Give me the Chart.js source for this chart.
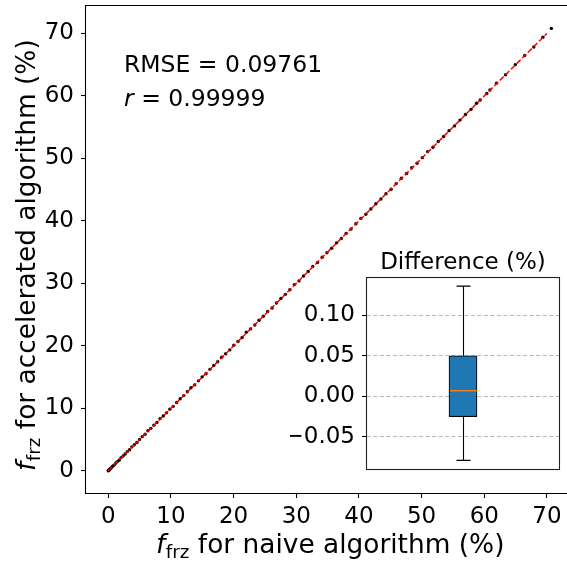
<!DOCTYPE html>
<html><head><meta charset="utf-8">
<script src="https://cdn.jsdelivr.net/npm/chart.js@4/dist/chart.umd.min.js"></script>
<style>
html,body{margin:0;padding:0;background:#fff;}
#wrap{position:relative;width:567px;height:564px;overflow:hidden;background:#fff;}
#main{position:absolute;left:0;top:0;}
#inset{position:absolute;left:290px;top:240px;}
</style></head><body>
<div id="wrap"><canvas id="main" width="567" height="564"></canvas><canvas id="inset" width="277" height="240"></canvas></div>
<script>
const FONT = "'DejaVu Sans', sans-serif";

// f_frz for naive algorithm (%)
const naive = [0.00,0.05,0.12,0.20,0.31,0.45,0.62,0.80,1.02,1.25,1.51,1.78,2.06,2.37,2.70,3.04,3.40,3.77,4.16,4.57,4.99,5.42,5.87,6.33,6.80,7.28,7.77,8.27,8.78,9.30,9.83,10.37,10.92,11.48,12.05,12.62,13.20,13.79,14.39,14.99,15.60,16.22,16.84,17.47,18.10,18.74,19.39,20.04,20.70,21.36,22.03,22.70,23.38,24.06,24.75,25.44,26.14,26.84,27.55,28.26,28.98,29.70,30.43,31.16,31.90,32.64,33.39,34.14,34.89,35.65,36.42,37.19,37.96,38.74,39.52,40.31,41.10,41.90,42.70,43.51,44.32,45.13,45.95,46.77,47.60,48.43,49.27,50.11,50.96,51.81,52.66,53.52,54.38,55.25,56.12,57.00,57.88,58.76,59.35,60.40,60.90,61.95,63.40,64.95,66.45,67.90,69.35,70.70];
// f_frz for accelerated algorithm (%)
const accel = [0.000,0.054,0.110,0.212,0.331,0.435,0.650,0.808,0.998,1.295,1.512,1.749,2.115,2.381,2.692,3.078,3.373,3.834,4.166,4.528,5.009,5.469,5.852,6.402,6.795,7.307,7.734,8.360,8.793,9.276,9.871,10.315,10.923,11.538,12.038,12.644,13.310,13.761,14.399,15.037,15.532,16.236,16.875,17.450,18.181,18.741,19.351,20.092,20.707,21.334,22.166,22.715,23.332,24.093,24.741,25.501,26.061,26.862,27.594,28.243,28.985,29.799,30.397,31.178,31.897,32.690,33.330,34.168,34.900,35.629,36.487,37.178,38.000,38.695,39.534,40.396,41.072,41.902,42.753,43.503,44.351,45.058,45.970,46.816,47.584,48.505,49.235,50.118,51.080,51.786,52.697,53.516,54.438,55.199,56.132,57.025,57.850,58.829,59.356,60.389,60.943,62.045,63.381,65.000,66.467,67.838,69.379,70.805];

const refLineX = [0, 70];
const refLineY = [0, 70];
const mainTicks = [0, 10, 20, 30, 40, 50, 60, 70];
const xLimits = [-3.55, 72.56];
const yLimits = [-3.55, 74.55];

const annotRmse = 'RMSE = 0.09761';
const annotRVar = 'r';
const annotRVal = ' = 0.99999';
const xTitleParts = ['f', 'frz', ' for naive algorithm (%)'];
const yTitleParts = ['f', 'frz', ' for accelerated algorithm (%)'];

// Difference (%) box plot statistics
const boxWhiskers = [-0.079, 0.136];
const boxQuartiles = [-0.025, 0.050];
const boxMedian = [0.007];
const insetTicks = [-0.05, 0.00, 0.05, 0.10];
const insetLimits = [-0.0896, 0.146];
const insetTitle = 'Difference (%)';

function drawMathLabel(ctx, parts, size, subSize, subDrop) {
  ctx.textBaseline = 'alphabetic';
  ctx.textAlign = 'left';
  ctx.fillStyle = '#000';
  let x = 0;
  ctx.font = 'italic ' + size + 'px ' + FONT;
  ctx.fillText(parts[0], x, 0);
  x += ctx.measureText(parts[0]).width + 0.5;
  ctx.font = subSize + 'px ' + FONT;
  ctx.fillText(parts[1], x, subDrop);
  x += ctx.measureText(parts[1]).width;
  ctx.font = size + 'px ' + FONT;
  ctx.fillText(parts[2], x, 0);
}

function noPad(s) {
  s.paddingTop = 0; s.paddingBottom = 0; s.paddingLeft = 0; s.paddingRight = 0;
}

const mainDecor = {
  id: 'mainDecor',
  afterDraw(chart) {
    const ctx = chart.ctx, a = chart.chartArea;
    ctx.save();
    ctx.strokeStyle = '#000';
    ctx.lineWidth = 1.1;
    ctx.beginPath();
    ctx.moveTo(chart.width + 2, a.top + 0.5);
    ctx.lineTo(a.left - 0.5, a.top + 0.5);
    ctx.lineTo(a.left - 0.5, a.bottom + 0.5);
    ctx.lineTo(chart.width + 2, a.bottom + 0.5);
    ctx.stroke();

    // annotations
    ctx.fillStyle = '#000';
    ctx.textBaseline = 'alphabetic';
    ctx.textAlign = 'left';
    ctx.font = '23.5px ' + FONT;
    ctx.fillText(annotRmse, 124, 72);
    ctx.font = 'italic 23.5px ' + FONT;
    ctx.fillText(annotRVar, 124, 106);
    const rw = ctx.measureText(annotRVar).width;
    ctx.font = '23.5px ' + FONT;
    ctx.fillText(annotRVal, 124 + rw, 106);

    // x title
    ctx.save();
    ctx.translate(156, 553);
    drawMathLabel(ctx, xTitleParts, 26.4, 18.4, 4.5);
    ctx.restore();
    // y title
    ctx.save();
    ctx.translate(35, 471);
    ctx.rotate(-Math.PI / 2);
    drawMathLabel(ctx, yTitleParts, 26.4, 18.4, 4.5);
    ctx.restore();
    ctx.restore();
  }
};

const tickFont = { family: FONT, size: 23 };

new Chart(document.getElementById('main'), {
  type: 'scatter',
  data: {
    datasets: [
      {
        data: naive.map((x, i) => ({ x: x, y: accel[i] })),
        pointRadius: 1.7, pointBackgroundColor: '#000', pointBorderWidth: 0,
        order: 2
      },
      {
        type: 'line',
        data: refLineX.map((x, i) => ({ x: x, y: refLineY[i] })),
        borderColor: '#ff0000', borderWidth: 1.5, borderDash: [5.5, 2.4],
        pointRadius: 0, fill: false, order: 1
      }
    ]
  },
  options: {
    responsive: false, animation: false, devicePixelRatio: 1,
    layout: { padding: { top: 5, right: 0, left: 0, bottom: 0 } },
    plugins: { legend: { display: false }, tooltip: { enabled: false } },
    scales: {
      x: {
        type: 'linear', min: xLimits[0], max: xLimits[1],
        afterBuildTicks: s => { s.ticks = mainTicks.map(v => ({ value: v })); },
        afterFit: s => { s.height = 71; noPad(s); },
        grid: { drawOnChartArea: false, drawTicks: true, tickLength: 5, tickColor: '#000', tickWidth: 1.1 },
        border: { display: false },
        ticks: { color: '#000', font: tickFont, padding: 5, maxRotation: 0, autoSkip: false }
      },
      y: {
        type: 'linear', min: yLimits[0], max: yLimits[1],
        afterBuildTicks: s => { s.ticks = mainTicks.map(v => ({ value: v })); },
        afterFit: s => { s.width = 86; noPad(s); },
        grid: { drawOnChartArea: false, drawTicks: true, tickLength: 5, tickColor: '#000', tickWidth: 1.1 },
        border: { display: false },
        ticks: { color: '#000', font: tickFont, padding: 7, autoSkip: false }
      }
    }
  },
  plugins: [mainDecor]
});

const insetDecor = {
  id: 'insetDecor',
  beforeDraw(chart) {
    const ctx = chart.ctx, a = chart.chartArea;
    ctx.save();
    ctx.fillStyle = '#fff';
    ctx.fillRect(a.left, a.top, a.right - a.left, a.bottom - a.top);
    ctx.restore();
  },
  afterDatasetsDraw(chart) {
    const ctx = chart.ctx;
    const xs = chart.scales.x, ys = chart.scales.y;
    const cx = Math.round(xs.getPixelForValue(0)) + 0.5;
    const capHalf = 7, boxHalf = 14;
    const yMin = ys.getPixelForValue(boxWhiskers[0]);
    const yMax = ys.getPixelForValue(boxWhiskers[1]);
    const yQ1 = ys.getPixelForValue(boxQuartiles[0]);
    const yQ3 = ys.getPixelForValue(boxQuartiles[1]);
    const yMed = ys.getPixelForValue(boxMedian[0]);
    ctx.save();
    ctx.strokeStyle = '#000';
    ctx.lineWidth = 1.1;
    ctx.beginPath();
    ctx.moveTo(cx, yQ3); ctx.lineTo(cx, yMax);
    ctx.moveTo(cx - capHalf, yMax); ctx.lineTo(cx + capHalf, yMax);
    ctx.moveTo(cx, yQ1); ctx.lineTo(cx, yMin);
    ctx.moveTo(cx - capHalf, yMin); ctx.lineTo(cx + capHalf, yMin);
    ctx.stroke();
    ctx.strokeStyle = '#ff7f0e';
    ctx.lineWidth = 1.4;
    ctx.beginPath();
    ctx.moveTo(cx - boxHalf + 0.5, yMed); ctx.lineTo(cx + boxHalf - 0.5, yMed);
    ctx.stroke();
    ctx.restore();
  },
  afterDraw(chart) {
    const ctx = chart.ctx, a = chart.chartArea;
    ctx.save();
    ctx.strokeStyle = '#222';
    ctx.lineWidth = 1.1;
    ctx.strokeRect(a.left - 0.5, a.top - 0.5, a.right - a.left + 1, a.bottom - a.top + 1);
    ctx.fillStyle = '#000';
    ctx.font = '23px ' + FONT;
    ctx.textAlign = 'center';
    ctx.textBaseline = 'alphabetic';
    ctx.fillText(insetTitle, (a.left + a.right) / 2, 29);
    ctx.restore();
  }
};

new Chart(document.getElementById('inset'), {
  type: 'bar',
  data: {
    labels: [''],
    datasets: [{
      data: [boxQuartiles],
      backgroundColor: '#1f77b4', borderColor: '#000', borderWidth: 1.1,
      borderSkipped: false, barThickness: 28
    }]
  },
  options: {
    responsive: false, animation: false, devicePixelRatio: 1,
    layout: { padding: { top: 38, right: 8, bottom: 11, left: 0 } },
    plugins: { legend: { display: false }, tooltip: { enabled: false } },
    scales: {
      x: { display: false },
      y: {
        type: 'linear', min: insetLimits[0], max: insetLimits[1],
        afterBuildTicks: s => { s.ticks = insetTicks.map(v => ({ value: v })); },
        afterFit: s => { s.width = 77; noPad(s); },
        grid: { color: '#b8b8b8', lineWidth: 1, drawTicks: true, tickLength: 5, tickColor: '#000', tickWidth: 1.1 },
        border: { display: false, dash: [4, 2.5] },
        ticks: {
          color: '#000', font: tickFont, padding: 7, autoSkip: false,
          callback: v => (v < 0 ? '\u2212' : '') + Math.abs(v).toFixed(2)
        }
      }
    }
  },
  plugins: [insetDecor]
});
</script>
</body></html>
